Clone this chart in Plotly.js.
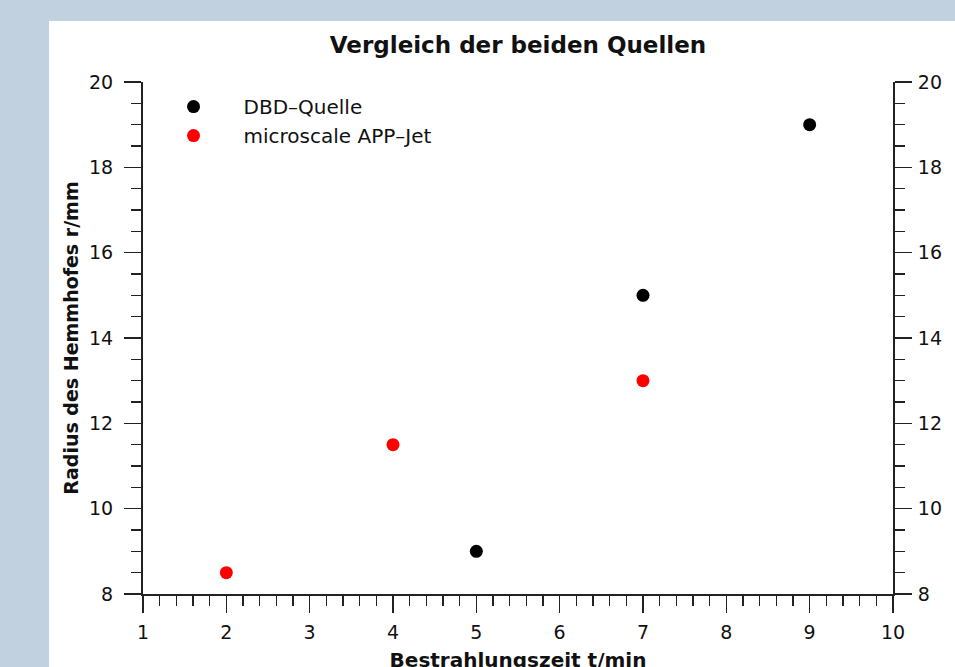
<!DOCTYPE html>
<html>
<head>
<meta charset="utf-8">
<script src="https://cdn.plot.ly/plotly-3.0.1.min.js"></script>
<style>
  html, body { margin: 0; padding: 0; background: #c1d1e0; width: 955px; height: 667px; overflow: hidden; }
  #chart { position: absolute; left: 49px; top: 21px; width: 906px; height: 660px; }
</style>
</head>
<body>
<div id="chart"></div>
<script>
// Data
const dbdTime = [5, 7, 9];
const dbdRadius = [9, 15, 19];
const jetTime = [2, 4, 7];
const jetRadius = [8.5, 11.5, 13];
const seriesNames = ['DBD\u2013Quelle', 'microscale APP\u2013Jet'];

const FONT = 'DejaVu Sans, Verdana, sans-serif';
const AX = '#222';

const traces = [
  { x: dbdTime, y: dbdRadius, name: seriesNames[0], mode: 'markers', type: 'scatter',
    marker: { color: '#000000', size: 13 } },
  { x: jetTime, y: jetRadius, name: seriesNames[1], mode: 'markers', type: 'scatter',
    marker: { color: '#ff0000', size: 13 } },
  { x: dbdTime, y: dbdRadius, yaxis: 'y2', mode: 'markers', type: 'scatter',
    marker: { color: 'rgba(0,0,0,0)', size: 1 }, showlegend: false, hoverinfo: 'skip' }
];

const baseY = {
  range: [8, 20], dtick: 2, tick0: 8, showgrid: false, zeroline: false,
  showline: true, linecolor: AX, linewidth: 2,
  ticks: 'outside', ticklen: 17, tickwidth: 1.5, tickcolor: AX,
  minor: { dtick: 0.5, ticks: 'outside', ticklen: 10, tickwidth: 1.5, tickcolor: AX, showgrid: false },
  tickfont: { family: FONT, size: 19, color: '#111' }
};

const layout = {
  width: 906, height: 660,
  margin: { l: 94, r: 62, t: 61, b: 87 },
  paper_bgcolor: '#ffffff', plot_bgcolor: '#ffffff',
  font: { family: FONT, color: '#111' },
  title: { text: '<b>Vergleich der beiden Quellen</b>', font: { family: FONT, size: 23, color: '#111' },
           x: 0.5, xref: 'paper', xanchor: 'center', y: 1, yref: 'container', yanchor: 'top', pad: { t: 16 } },
  xaxis: {
    range: [1, 10], dtick: 1, tick0: 1, showgrid: false, zeroline: false,
    showline: true, linecolor: AX, linewidth: 2,
    ticks: 'outside', ticklen: 17, tickwidth: 1.5, tickcolor: AX,
    minor: { dtick: 0.2, ticks: 'outside', ticklen: 10, tickwidth: 1.5, tickcolor: AX, showgrid: false },
    tickfont: { family: FONT, size: 19, color: '#111' }, ticklabelstandoff: 3,
    title: { text: '<b>Bestrahlungszeit t/min</b>', font: { family: FONT, size: 20, color: '#111' }, standoff: 11 }
  },
  yaxis: Object.assign({}, baseY, { ticklabelstandoff: 7,
    title: { text: '<b>Radius des Hemmhofes r/mm</b>', font: { family: FONT, size: 19, color: '#111' }, standoff: 5 }
  }),
  yaxis2: Object.assign({}, baseY, { overlaying: 'y', side: 'right', matches: 'y', ticklabelstandoff: 2 }),
  showlegend: true,
  legend: {
    x: 0.0007, y: 0.99, xanchor: 'left', yanchor: 'top',
    bgcolor: 'rgba(0,0,0,0)', itemwidth: 90, tracegroupgap: 0,
    font: { family: FONT, size: 20, color: '#111' }
  }
};

Plotly.newPlot('chart', traces, layout, { displayModeBar: false, staticPlot: true });
</script>
</body>
</html>
